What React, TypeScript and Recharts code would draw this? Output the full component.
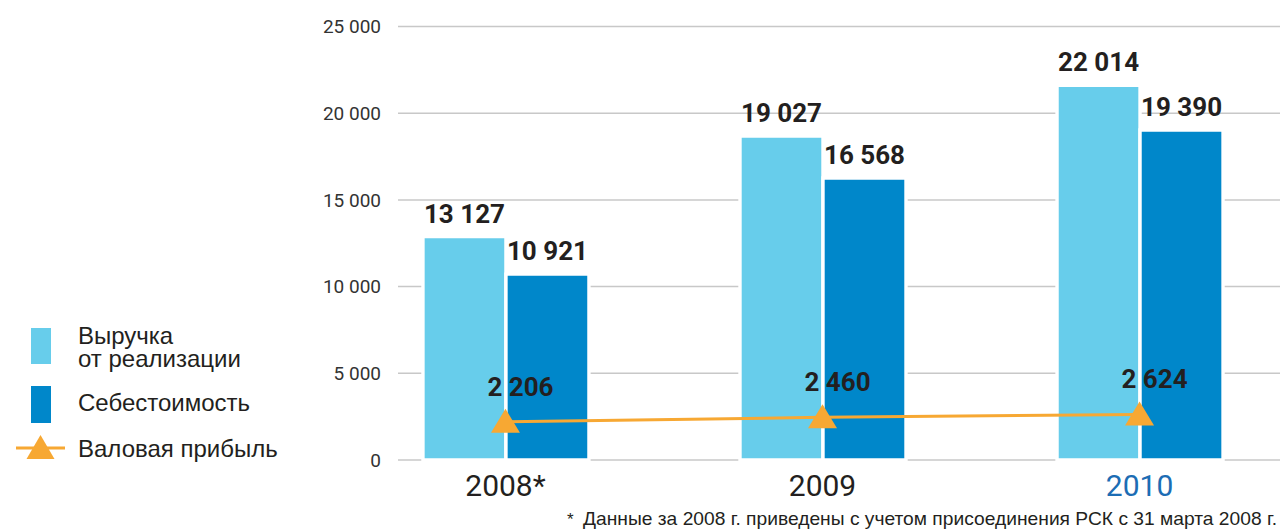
import { ComposedChart, Bar, Line, XAxis, YAxis, CartesianGrid, LabelList } from 'recharts';

const years = ['2008*', '2009', '2010'];
const revenue = [13127, 19027, 22014];
const cost = [10921, 16568, 19390];
const grossProfit = [2206, 2460, 2624];
const yTicks = [0, 5000, 10000, 15000, 20000, 25000];

const LIGHT = '#67cdeb';
const DARK = '#0087ca';
const ORANGE = '#f7a833';
const TEXT = '#231f20';

const data = years.map((year, i) => ({
  idx: i,
  year,
  revenue: revenue[i],
  cost: cost[i],
  profit: grossProfit[i],
}));

// "13127" -> "13 127"
const fmt = (v: number) => String(v).replace(/\B(?=(\d{3})+(?!\d))/g, ' ');

const YearTick = (props: any) => {
  const { x, y, payload } = props;
  const label = years[payload.value];
  return (
    <text
      x={x}
      y={y}
      dy="0.71em"
      textAnchor="middle"
      fontFamily="Roboto, sans-serif"
      fontSize={30}
      fill={label === '2010' ? '#1c6db4' : TEXT}
    >
      {label}
    </text>
  );
};

const Triangle = (props: any) => {
  const { cx, cy } = props;
  if (cx == null || cy == null) return null;
  return <polygon points={`${cx},${cy - 13} ${cx - 14.5},${cy + 11} ${cx + 14.5},${cy + 11}`} fill={ORANGE} />;
};

const ProfitLabel = (props: any) => {
  const { x, y, value } = props;
  return (
    <text
      x={x + 15}
      y={y - 26}
      textAnchor="middle"
      fontFamily="Roboto, sans-serif"
      fontWeight={700}
      fontSize={26}
      fill={TEXT}
    >
      {fmt(value)}
    </text>
  );
};

const barLabelStyle = {
  fontFamily: 'Roboto, sans-serif',
  fontWeight: 700,
  fontSize: 26,
  fill: TEXT,
};

export default function App() {
  const legendFont = '"Liberation Sans", Arial, sans-serif';
  return (
    <div style={{ position: 'absolute', left: 0, top: 0, width: 1280, height: 530, background: '#fff' }}>
      <ComposedChart
        width={1280}
        height={530}
        data={data}
        margin={{ top: 26.5, right: 0, bottom: 0, left: 0 }}
        barGap={0}
      >
        <CartesianGrid vertical={false} stroke="#c8c8c8" strokeWidth={1.5} yAxisId="main" />
        <XAxis
          dataKey="idx"
          type="number"
          domain={[-0.339, 2.443]}
          ticks={[0, 1, 2]}
          height={70}
          axisLine={false}
          tickLine={false}
          tickSize={0}
          tickMargin={15}
          tick={<YearTick />}
          allowDataOverflow
        />
        <YAxis
          yAxisId="main"
          width={398}
          domain={[0, 25000]}
          ticks={yTicks}
          axisLine={false}
          tickLine={false}
          tickSize={0}
          tickMargin={17}
          tickFormatter={fmt}
          tick={{ fontFamily: 'Roboto, sans-serif', fontSize: 19, fill: '#333' }}
        />
        <YAxis yAxisId="bars" hide width={0} domain={[0, 25470]} />
        <Bar yAxisId="bars" dataKey="revenue" fill={LIGHT} stroke="#fff" strokeWidth={3.4} barSize={83} isAnimationActive={false}>
          <LabelList dataKey="revenue" position="top" offset={14} formatter={fmt} style={barLabelStyle} />
        </Bar>
        <Bar yAxisId="bars" dataKey="cost" fill={DARK} stroke="#fff" strokeWidth={3.4} barSize={83} isAnimationActive={false}>
          <LabelList dataKey="cost" position="top" offset={14} formatter={fmt} style={barLabelStyle} />
        </Bar>
        <Line
          yAxisId="main"
          dataKey="profit"
          stroke={ORANGE}
          strokeWidth={3}
          dot={<Triangle />}
          activeDot={false}
          isAnimationActive={false}
        >
          <LabelList dataKey="profit" content={<ProfitLabel />} />
        </Line>
      </ComposedChart>

      <svg width={1280} height={530} style={{ position: 'absolute', left: 0, top: 0, pointerEvents: 'none' }}>
        <rect x={31} y={328} width={20} height={36} fill={LIGHT} />
        <text x={78} y={344} fontFamily={legendFont} fontSize={24} fill={TEXT}>Выручка</text>
        <text x={78} y={367} fontFamily={legendFont} fontSize={24} fill={TEXT}>от реализации</text>

        <rect x={31} y={386} width={20} height={37} fill={DARK} />
        <text x={78} y={411} fontFamily={legendFont} fontSize={24} fill={TEXT}>Себестоимость</text>

        <line x1={16} y1={448} x2={65} y2={448} stroke={ORANGE} strokeWidth={3} />
        <polygon points="40.5,435 26.5,459 54.5,459" fill={ORANGE} />
        <text x={78} y={457} fontFamily={legendFont} fontSize={24} fill={TEXT}>Валовая прибыль</text>

        <text x={567} y={525} fontFamily={legendFont} fontSize={17} fill={TEXT}>*</text>
        <text x={583} y={525} textLength={694} lengthAdjust="spacingAndGlyphs" fontFamily={legendFont} fontSize={18.5} fill={TEXT}>
          Данные за 2008 г. приведены с учетом присоединения РСК с 31 марта 2008 г.
        </text>
      </svg>
    </div>
  );
}
